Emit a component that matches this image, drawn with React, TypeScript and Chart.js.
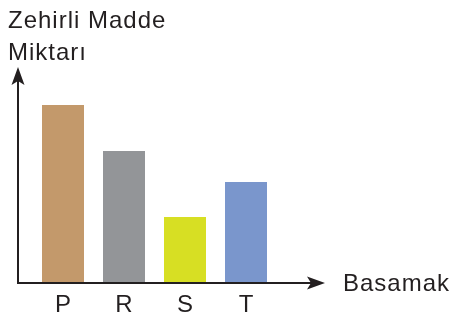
import React, { useEffect, useRef } from "react";
import { Chart, registerables } from "chart.js";

Chart.register(...registerables);

const categories = ["P", "R", "S", "T"];
const values = [88.5, 65.5, 32.5, 50];
const barColors = ["#C3996B", "#939598", "#D7DF23", "#7A96CC"];
const yTitleLines = ["Zehirli Madde", "Miktarı"];
const xTitle = "Basamak";

const FONT = '"Liberation Sans", Arial, Helvetica, sans-serif';
const AXIS_COLOR = "#231F20";

function drawArrowHead(ctx: CanvasRenderingContext2D, tipX: number, tipY: number, dir: "up" | "right") {
  const len = 18;
  const half = 6.5;
  const notch = 4;
  ctx.beginPath();
  if (dir === "up") {
    ctx.moveTo(tipX, tipY);
    ctx.lineTo(tipX + half, tipY + len);
    ctx.lineTo(tipX, tipY + len - notch);
    ctx.lineTo(tipX - half, tipY + len);
  } else {
    ctx.moveTo(tipX, tipY);
    ctx.lineTo(tipX - len, tipY - half);
    ctx.lineTo(tipX - len + notch, tipY);
    ctx.lineTo(tipX - len, tipY + half);
  }
  ctx.closePath();
  ctx.fill();
}

const decorPlugin = {
  id: "decor",
  afterDatasetsDraw(chart: any) {
    const { ctx, chartArea, scales } = chart;
    const axisX = chartArea.left - 14.5;
    const axisY = chartArea.bottom + 1;
    const yTip = chartArea.top - 15;
    const xTip = chartArea.right + 48.5;
    ctx.save();
    ctx.strokeStyle = AXIS_COLOR;
    ctx.fillStyle = AXIS_COLOR;
    ctx.lineWidth = 2;
    // y axis
    ctx.beginPath();
    ctx.moveTo(axisX, axisY + 1);
    ctx.lineTo(axisX, yTip + 10);
    ctx.stroke();
    drawArrowHead(ctx, axisX, yTip, "up");
    // x axis
    ctx.beginPath();
    ctx.moveTo(axisX - 1, axisY);
    ctx.lineTo(xTip - 10, axisY);
    ctx.stroke();
    drawArrowHead(ctx, xTip, axisY, "right");

    // category labels
    ctx.fillStyle = "#231F20";
    ctx.font = `24px ${FONT}`;
    ctx.textAlign = "center";
    ctx.textBaseline = "alphabetic";
    categories.forEach((c, i) => {
      const x = scales.x.getPixelForValue(i);
      ctx.fillText(c, x, chartArea.bottom + 30);
    });

    // titles
    (ctx as any).letterSpacing = "1px";
    ctx.font = `24px ${FONT}`;
    ctx.textAlign = "left";
    ctx.fillText(xTitle, xTip + 18, axisY + 8);
    yTitleLines.forEach((line, i) => {
      ctx.fillText(line, axisX - 10, 28 + i * 32);
    });
    ctx.restore();
  },
};

export default function App() {
  const canvasRef = useRef<HTMLCanvasElement | null>(null);

  useEffect(() => {
    if (!canvasRef.current) return;
    const chart = new Chart(canvasRef.current, {
      type: "bar",
      data: {
        labels: categories,
        datasets: [
          {
            data: values,
            backgroundColor: barColors,
            borderWidth: 0,
            categoryPercentage: 1,
            barPercentage: 42 / 61,
          },
        ],
      },
      options: {
        responsive: false,
        animation: false,
        maintainAspectRatio: false,
        layout: { padding: { left: 32.5, right: 178.5, top: 82, bottom: 37 } },
        plugins: { legend: { display: false }, tooltip: { enabled: false }, title: { display: false } },
        scales: {
          x: { display: false },
          y: { display: false, min: 0, max: 100 },
        },
      },
      plugins: [decorPlugin],
    });
    return () => chart.destroy();
  }, []);

  return (
    <div style={{ position: "fixed", left: 0, top: 0, width: 455, height: 319, background: "#fff" }}>
      <canvas ref={canvasRef} width={455} height={319} style={{ width: 455, height: 319, display: "block" }} />
    </div>
  );
}
